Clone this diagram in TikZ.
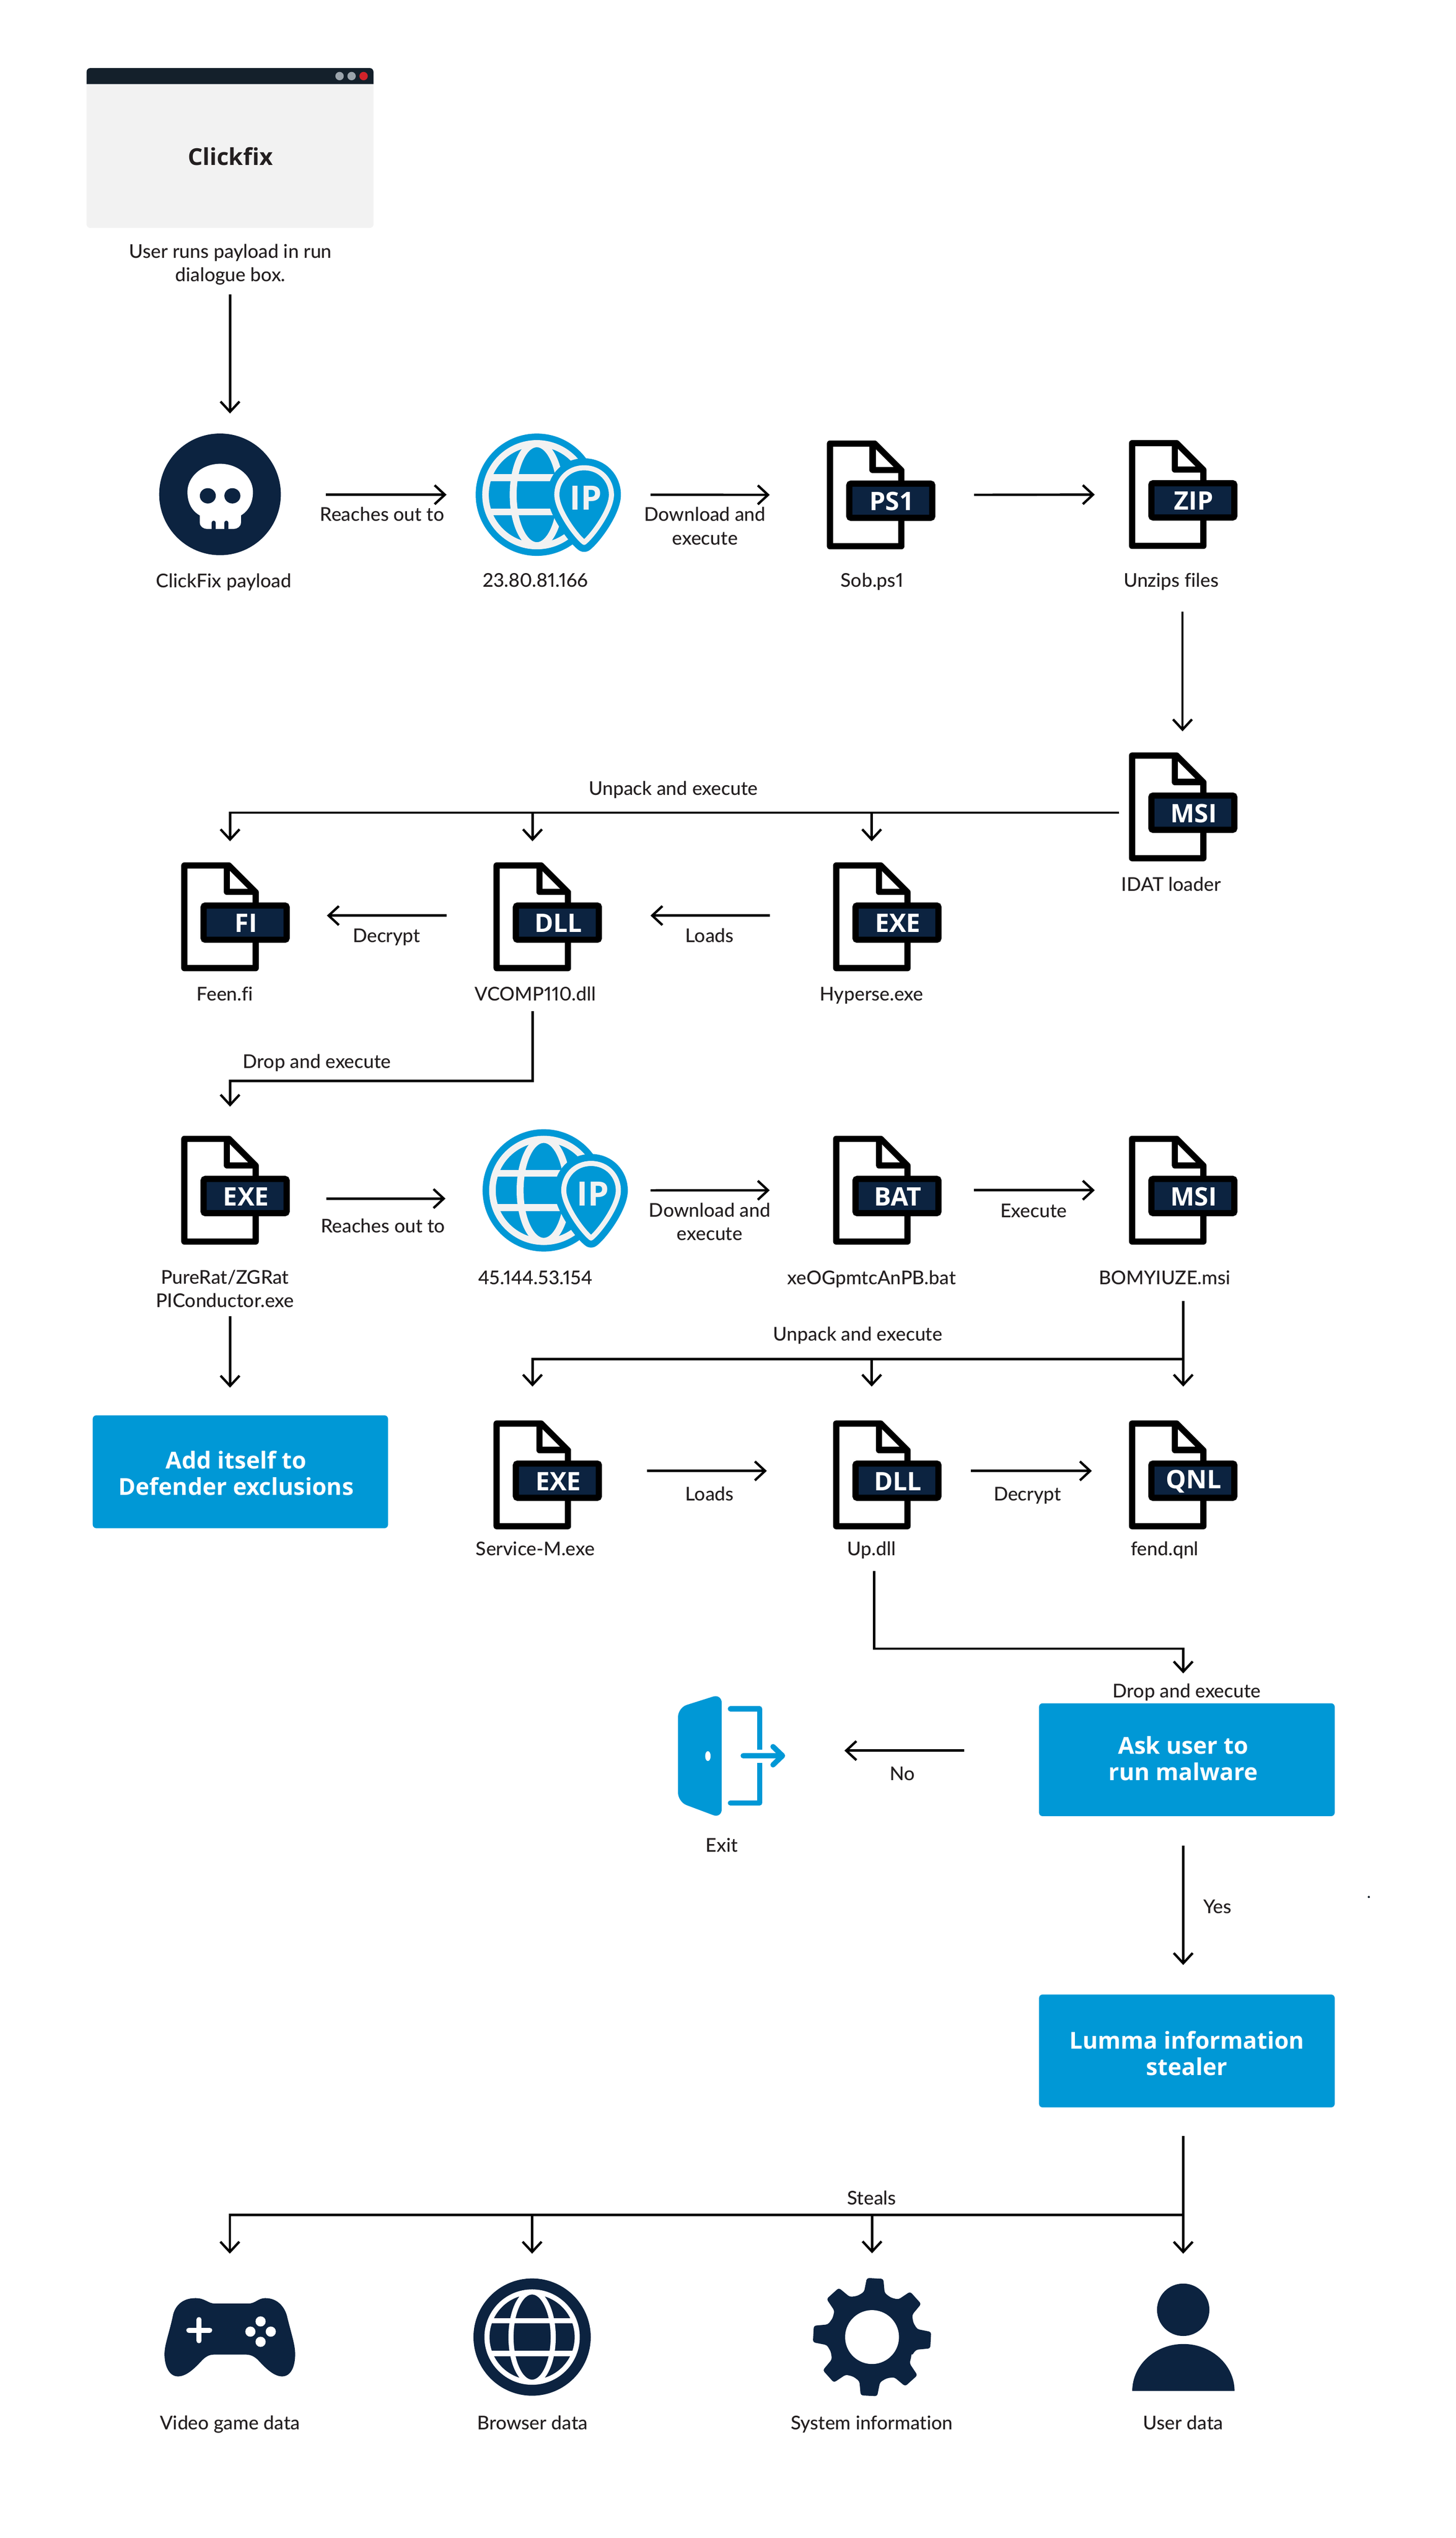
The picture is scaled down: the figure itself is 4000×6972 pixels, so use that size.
\documentclass[tikz,border=0pt]{standalone}
\usepackage{fontspec}
\setmainfont{Lato Medium}[Ligatures=NoCommon,Numbers=Proportional]
\newfontfamily\heavyf{Open Sans}[BoldFont={Open Sans Bold},Ligatures=NoCommon]
\usetikzlibrary{arrows.meta}
\definecolor{navy}{HTML}{0C2340}
\definecolor{skyb}{HTML}{0098D6}
\definecolor{ink}{HTML}{231F20}
\definecolor{pale}{HTML}{F2F2F2}
\definecolor{barc}{HTML}{14202B}
\definecolor{dotg}{HTML}{9BA4AC}
\definecolor{dotr}{HTML}{D2232A}
\tikzset{
  wire/.style={line width=0.65mm,draw=black,line join=miter},
  arr/.style={wire,-{Straight Barb[length=2.8mm,width=5.2mm,line width=0.65mm]}},
  lbl/.style={font=\fontsize{5.2mm}{6.45mm}\selectfont,text=ink,inner sep=0pt,outer sep=0pt,align=center},
  one/.style={lbl,text height=3.7mm,text depth=1.1mm,yshift=-0.7mm},
  boxt/.style={fill=skyb,rounded corners=1mm,inner sep=0pt,outer sep=0pt,minimum width=81.2mm,minimum height=31mm},
  boxl/.style={inner sep=0pt,outer sep=0pt,text=white,align=center,font=\fontsize{6.4mm}{7.25mm}\selectfont\heavyf\bfseries},
  iconb/.style={inner sep=0pt,outer sep=0pt,minimum width=29.8mm,minimum height=29.9mm,anchor=north west},
  tagt/.style={inner sep=0pt,text=white,font=\fontsize{7mm}{7.2mm}\selectfont\heavyf\bfseries},
  filel/.style={draw=black,line width=1.7mm,line join=round,fill=white},
}
\newcommand{\fileicon}[4]{%
  \node[iconb] (#1) at (#2,#3) {};
  \begin{scope}[shift={(#2,#3)}]
    \path[filel] (8.5,8.5) -- (131,8.5) -- (204.5,82) -- (204.5,290.5) -- (8.5,290.5) -- cycle;
    \path[filel,fill=none] (125.7,8.5) -- (125.7,81) -- (204.5,81);
    \path[draw=black,line width=1.7mm,fill=navy,rounded corners=0.5mm] (61.5,118.5) rectangle (289.5,212.5);
    \node[tagt] (#1tag) at (178,167) {#4};
  \end{scope}}
\newcommand{\ipicon}[3]{%
  \node[inner sep=0pt,outer sep=0pt,minimum width=39.9mm,minimum height=33.6mm,anchor=west] (#1) at (#2-168,#3) {};
  \begin{scope}[shift={(#2,#3)}]
    \fill[skyb] (0,0) circle (168);
    \begin{scope}
      \clip (0,0) circle (141);
      \draw[pale,line width=1.9mm] (-150,-47) -- (150,-47) (-150,47) -- (150,47);
    \end{scope}
    \draw[pale,line width=1.8mm] (0,0) circle (141);
    \draw[pale,line width=1.9mm] (0,0) ellipse (65 and 140);
    \def\pinp{(130,-74) .. controls (175,-74) and (205,-39) .. (205,0) .. controls (205,41) and (155,111) .. (130,131) .. controls (105,111) and (55,41) .. (55,0) .. controls (55,-39) and (85,-74) .. (130,-74) -- cycle}
    \path[draw=skyb,fill=skyb,line width=5.2mm,line join=round] \pinp;
    \path[draw=pale,fill=skyb,line width=1.4mm,line join=round] \pinp;
    \node[inner sep=0pt,text=pale,font=\fontsize{9.2mm}{9.5mm}\selectfont\heavyf\bfseries] (#1t) at (135,9) {IP};
  \end{scope}}
\begin{document}
\begin{tikzpicture}[x=0.01cm,y=-0.01cm]
\useasboundingbox[fill=white] (0,0) rectangle (4000,6972);
% window
\node[fill=pale,rounded corners=1mm,inner sep=0pt,outer sep=0pt,minimum width=78.8mm,minimum height=43.9mm] (win) at (632,406.5) {};
\fill[barc,rounded corners=1mm] (238,215) -- (238,187) -- (1026,187) -- (1026,215) [sharp corners] -- (1026,231) -- (238,231) -- cycle;
\fill[dotg] (933,209) circle (11.5) (966,209) circle (11.5);
\fill[dotr] (999,209) circle (11.5);
\node[inner sep=0pt,text=ink,font=\fontsize{6.4mm}{7mm}\selectfont\heavyf\bfseries] (wint) at (633,430) {Clickfix};
\node[lbl] (winl) at (633,727) {User runs payload in run\\dialogue box.};
% skull
\node[circle,fill=navy,inner sep=0pt,outer sep=0pt,minimum size=33.4mm] (skull) at (604.5,1358) {};
\fill[white] (605,1274) .. controls (655,1274) and (695,1310) .. (695,1351) .. controls (695,1385) and (680,1405) .. (662,1416) -- (662,1436) .. controls (662,1446) and (652,1453) .. (642,1453) -- (569,1453) .. controls (559,1453) and (549,1446) .. (549,1436) -- (549,1416) .. controls (530,1405) and (515,1385) .. (515,1351) .. controls (515,1310) and (555,1274) .. (605,1274) -- cycle;
\fill[navy] (571,1362) ellipse (22 and 21) (638.5,1362) ellipse (22 and 21);
\draw[navy,line width=1.15mm,line cap=round] (587.5,1436) -- (587.5,1460) (622,1436) -- (622,1460);
\node[one] (skulll) at (615,1594) {ClickFix payload};
% row 1
\ipicon{ipa}{1475}{1359}
\node[one] (ipal) at (1471,1592) {23.80.81.166};
\fileicon{ps}{2272}{1210}{PS1}
\node[one] (psl) at (2396,1592) {Sob.ps1};
\fileicon{zip}{3102}{1209}{ZIP}
\node[one] (zipl) at (3218,1592) {Unzips files};
\node[one] (reacha) at (1050,1412) {Reaches out to};
\node[lbl] (dla) at (1937,1445) {Download and\\execute};
% IDAT
\fileicon{idat}{3102}{2067}{MSI}
\node[one] (idatl) at (3218,2428) {IDAT loader};
\node[one] (unpa) at (1850,2164) {Unpack and execute};
% row 2
\fileicon{fi}{498}{2369}{FI}
\node[one] (fil) at (618,2729) {Feen.fi};
\fileicon{dll}{1356}{2369}{DLL}
\node[one] (dlll) at (1471,2729) {VCOMP110.dll};
\fileicon{hyp}{2289}{2369}{EXE}
\node[one] (hypl) at (2395,2729) {Hyperse.exe};
\node[one] (deca) at (1062,2569) {Decrypt};
\node[one] (loada) at (1950,2569) {Loads};
\node[one] (dropa) at (871,2915) {Drop and execute};
% row 3
\fileicon{pure}{498}{3120}{EXE}
\node[lbl] (purel) at (618,3540) {PureRat/ZGRat\\PIConductor.exe};
\ipicon{ipb}{1494}{3270}
\node[one] (ipbl) at (1471,3508) {45.144.53.154};
\fileicon{bat}{2289}{3120}{BAT}
\node[one] (batl) at (2395,3508) {xeOGpmtcAnPB.bat};
\fileicon{msib}{3102}{3120}{MSI}
\node[one] (msibl) at (3200,3508) {BOMYIUZE.msi};
\node[one] (reachb) at (1052,3366) {Reaches out to};
\node[lbl] (dlb) at (1950,3356) {Download and\\execute};
\node[one] (exea) at (2840,3325) {Execute};
\node[boxt,minimum width=81.1mm] (def) at (660.5,4043) {};
\node[boxl] (deft) at (649,4047) {Add itself to\\Defender exclusions};
% row 4
\node[one] (unpb) at (2357,3663) {Unpack and execute};
\fileicon{svc}{1356}{3902}{EXE}
\node[one] (svcl) at (1471,4253) {Service-M.exe};
\fileicon{up}{2289}{3902}{DLL}
\node[one] (upl) at (2395,4253) {Up.dll};
\fileicon{qnl}{3102}{3902}{QNL}
\node[one] (qnll) at (3200,4253) {fend.qnl};
\node[one] (loadb) at (1950,4103) {Loads};
\node[one] (decb) at (2823,4103) {Decrypt};
% ask
\node[one] (dropb) at (3261,4643) {Drop and execute};
\node[boxt] (ask) at (3261,4834) {};
\node[boxl] (askt) at (3251,4830) {Ask user to\\run malware};
\node[one] (noa) at (2480,4871) {No};
\node[inner sep=0pt,outer sep=0pt,minimum width=29.4mm,minimum height=32.9mm] (exit) at (2010,4823.5) {};
\fill[skyb,rounded corners=2.5mm] (1863,4691) -- (1983,4653) -- (1983,4995) -- (1863,4950) -- cycle;
\fill[white] (1945,4824) ellipse (7.5 and 13.5);
\draw[skyb,line width=1.45mm,line cap=round,line join=round] (2007,4694) -- (2087,4694);
\draw[skyb,line width=1.45mm,line join=round] (2087,4694) -- (2087,4806);
\draw[skyb,line width=1.45mm,line cap=round] (2007,4953) -- (2087,4953);
\draw[skyb,line width=1.45mm,line join=round] (2087,4953) -- (2087,4842);
\draw[skyb,line width=1.45mm,line cap=round,line join=round] (2042,4823) -- (2150,4823) (2124,4798) -- (2150,4823) -- (2124,4848);
\node[one] (exitl) at (1983,5068) {Exit};
\node[one] (yesl) at (3345,5236) {Yes};
\fill[barc] (3761,5211) circle (3);
\node[boxt] (lum) at (3261,5634) {};
\node[boxl] (lumt) at (3261,5641) {Lumma information\\stealer};
\node[one] (steal) at (2395,6037) {Steals};
% bottom icons
\node[inner sep=0pt,outer sep=0pt,minimum width=35.9mm,minimum height=21.5mm] (game) at (631.5,6420.5) {};
\fill[navy] (537,6313) .. controls (565,6313) and (570,6328) .. (592,6328) -- (681,6328) .. controls (703,6328) and (708,6313) .. (729,6313) .. controls (765,6313) and (782,6340) .. (788,6360) .. controls (800,6410) and (811,6440) .. (811,6467) .. controls (811,6500) and (800,6528) .. (775,6528) .. controls (750,6528) and (725,6500) .. (708,6482) .. controls (695,6470) and (685,6468) .. (672,6468) -- (592,6468) .. controls (578,6468) and (570,6470) .. (557,6482) .. controls (540,6500) and (515,6528) .. (489,6528) .. controls (465,6528) and (452,6500) .. (452,6467) .. controls (452,6440) and (465,6410) .. (476,6357) .. controls (482,6335) and (500,6313) .. (537,6313) -- cycle;
\draw[white,line width=1.4mm,line cap=round] (547,6372) -- (547,6430) (519,6401) -- (576,6401);
\fill[white] (716,6377) circle (14) (716,6433) circle (14) (688,6405) circle (14) (744,6405) circle (14);
\node[one] (gamel) at (632,6654) {Video game data};
\node[circle,fill=navy,inner sep=0pt,outer sep=0pt,minimum size=32.2mm] (brow) at (1462,6420) {};
\begin{scope}[shift={(1462,6420)}]
  \begin{scope}
    \clip (0,0) circle (124);
    \draw[white,line width=1.45mm] (-130,-45) -- (130,-45) (-130,45) -- (130,45);
  \end{scope}
  \draw[white,line width=1.4mm] (0,0) circle (124) (0,0) ellipse (58 and 124);
\end{scope}
\node[one] (browl) at (1463,6654) {Browser data};
\node[circle,inner sep=0pt,outer sep=0pt,minimum size=32.4mm] (gear) at (2396,6420) {};
\begin{scope}[shift={(2396,6420)},rotate=-3]
  \fill[navy,rounded corners=0.6mm] (22.5:120) \foreach \a in {0,-45,...,-315} { -- (\a+13:126) -- (\a+8:163) -- (\a-8:163) -- (\a-13:126) -- (\a-22.5:120) } -- cycle;
  \fill[white] (0,0) circle (74);
\end{scope}
\node[one] (gearl) at (2395,6654) {System information};
\node[inner sep=0pt,outer sep=0pt,minimum width=28.1mm,minimum height=29.5mm,anchor=north] (user) at (3251.5,6273) {};
\fill[navy] (3251,6345) circle (72);
\fill[navy] (3111,6568) .. controls (3111,6497) and (3174,6439) .. (3251.5,6439) .. controls (3329,6439) and (3392,6497) .. (3392,6568) -- cycle;
\node[one] (userl) at (3251,6654) {User data};
% connectors
\draw[arr,shorten <=18.2mm,shorten >=5.5mm] (win.south) -- (win.south |- skull.north);
\draw[arr,shorten <=12.4mm,shorten >=8mm] ([yshift=-0.1mm]skull.east) -- ([yshift=-0.1mm]skull.east -| ipa.west);
\draw[arr,shorten <=8.1mm,shorten >=15.7mm] (ipa.east) -- (ps.west);
\draw[arr,shorten <=10.6mm,shorten >=9.4mm] (ps.east) -- (zip.west);
\draw[arr,shorten <=17.2mm,shorten >=5.8mm] ([xshift=-0.2mm]zip.south) -- ([xshift=-0.2mm]idat.north);
\coordinate (busa) at ([yshift=-1.6mm]idat.west);
\draw[arr,shorten <=2.7mm,shorten >=5.8mm] (busa) -| ([xshift=-1.5mm]fi.north);
\draw[arr,shorten >=5.8mm] ([xshift=-4.2mm]dll.north |- busa) -- ([xshift=-4.2mm]dll.north);
\draw[arr,shorten >=5.8mm] ([xshift=-4.3mm]hyp.north |- busa) -- ([xshift=-4.3mm]hyp.north);
\draw[arr,shorten <=12.9mm,shorten >=10.2mm] ([yshift=0.35mm]dll.west) -- ([yshift=0.35mm]fi.east);
\draw[arr,shorten <=17.4mm,shorten >=13.3mm] ([yshift=0.35mm]hyp.west) -- ([yshift=0.35mm]dll.east);
\draw[arr,shorten <=11mm,shorten >=8mm] ([xshift=-4.2mm]dll.south) -- ++(0,301) -| ([xshift=-1.5mm]pure.north);
\draw[arr,shorten <=10.1mm,shorten >=10.2mm] ([yshift=-2.3mm]pure.east) -- ([yshift=-2.3mm]pure.east -| ipb.west);
\draw[arr,shorten <=6.2mm,shorten >=17.4mm] (ipb.east) -- (bat.west);
\draw[arr,shorten <=8.9mm,shorten >=9.4mm] (bat.east) -- (msib.west);
\draw[arr,shorten <=19.7mm,shorten >=7.6mm] ([xshift=-1.5mm]pure.south) -- ([xshift=-1.5mm]pure.south |- def.north);
\draw[arr,shorten <=15.4mm,shorten >=9.3mm] (msib.south) -- (qnl.north);
\coordinate (busb) at ([yshift=-31.4mm]msib.south);
\draw[arr,shorten >=9.3mm] (busb) -| ([xshift=-4.2mm]svc.north);
\draw[arr,shorten >=9.3mm] ([xshift=-4.3mm]up.north |- busb) -- ([xshift=-4.3mm]up.north);
\draw[arr,shorten <=12.4mm,shorten >=18.2mm] ([yshift=1.1mm]svc.east) -- ([yshift=1.1mm]up.west);
\draw[arr,shorten <=8mm,shorten >=10.2mm] ([yshift=1.1mm]up.east) -- ([yshift=1.1mm]qnl.west);
\draw[arr,shorten <=11.5mm,shorten >=8.2mm] ([xshift=-3.6mm]up.south) -- ++(0,328) -| ([xshift=-1mm]ask.north);
\draw[arr,shorten <=20.6mm,shorten >=16.3mm] ([yshift=2.5mm]ask.west) -- ([yshift=2.5mm]ask.west -| exit.east);
\draw[arr,shorten <=8.1mm,shorten >=8.1mm] ([xshift=-1mm]ask.south) -- ([xshift=-1mm]lum.north);
\draw[arr,shorten <=7.8mm,shorten >=8.2mm] ([xshift=-1mm]lum.south) -- ([xshift=-1mm]lum.south |- user.north);
\coordinate (busc) at ([xshift=-1mm,yshift=-29.5mm]lum.south);
\draw[arr,shorten >=12.2mm] (busc) -| (game.north);
\draw[arr,shorten >=6.8mm] (busc -| brow.north) -- (brow.north);
\draw[arr,shorten >=6.8mm] (busc -| gear.north) -- (gear.north);
\end{tikzpicture}
\end{document}
